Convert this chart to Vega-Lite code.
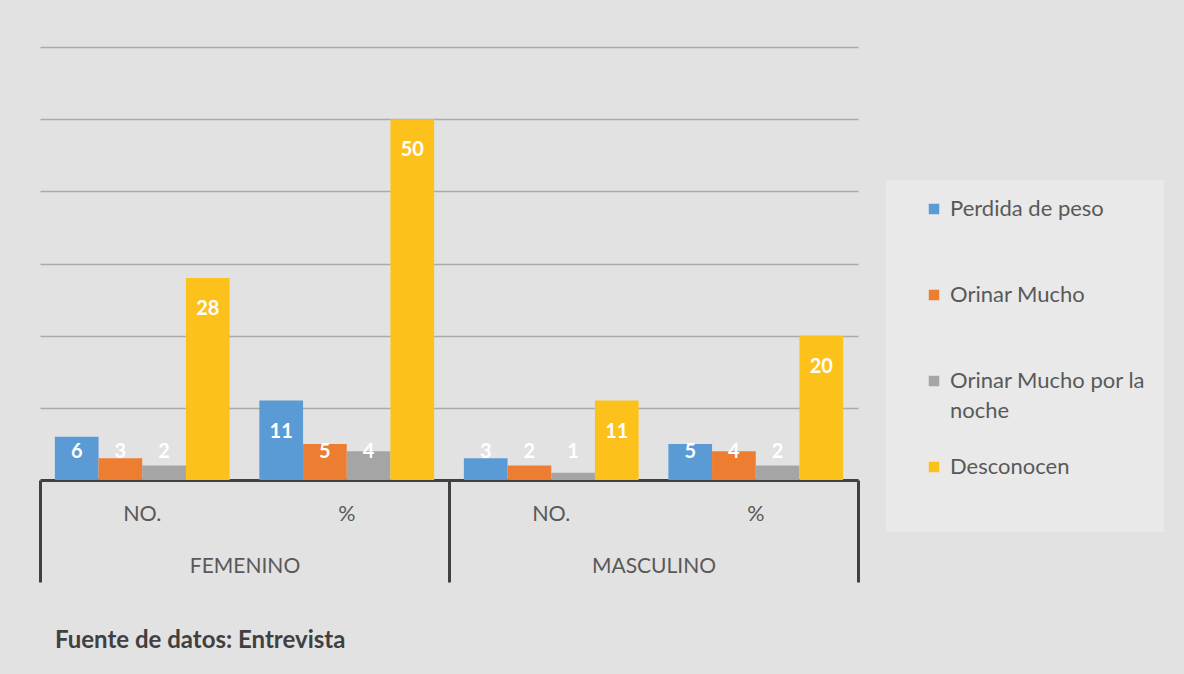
{
  "$schema": "https://vega.github.io/schema/vega-lite/v6.json",
  "width": 818,
  "height": 433,
  "autosize": {"type": "none"},
  "padding": {"left": 40, "top": 47, "right": 326, "bottom": 194},
  "background": "#e2e2e2",
  "config": {"font": "Lato", "view": {"stroke": null}},
  "title": {
    "text": "Fuente de datos: Entrevista",
    "orient": "bottom",
    "anchor": "start",
    "frame": "group",
    "offset": 45,
    "dx": 15,
    "fontSize": 24,
    "fontWeight": "bold",
    "color": "#404040",
    "font": "Lato"
  },
  "data": {
    "values": [
      {"sexo": "FEMENINO", "grupo": "FEMENINO|NO.", "categoria": "Perdida de peso", "valor": 6},
      {"sexo": "FEMENINO", "grupo": "FEMENINO|NO.", "categoria": "Orinar Mucho", "valor": 3},
      {"sexo": "FEMENINO", "grupo": "FEMENINO|NO.", "categoria": "Orinar Mucho por la noche", "valor": 2},
      {"sexo": "FEMENINO", "grupo": "FEMENINO|NO.", "categoria": "Desconocen", "valor": 28},
      {"sexo": "FEMENINO", "grupo": "FEMENINO|%", "categoria": "Perdida de peso", "valor": 11},
      {"sexo": "FEMENINO", "grupo": "FEMENINO|%", "categoria": "Orinar Mucho", "valor": 5},
      {"sexo": "FEMENINO", "grupo": "FEMENINO|%", "categoria": "Orinar Mucho por la noche", "valor": 4},
      {"sexo": "FEMENINO", "grupo": "FEMENINO|%", "categoria": "Desconocen", "valor": 50},
      {"sexo": "MASCULINO", "grupo": "MASCULINO|NO.", "categoria": "Perdida de peso", "valor": 3},
      {"sexo": "MASCULINO", "grupo": "MASCULINO|NO.", "categoria": "Orinar Mucho", "valor": 2},
      {"sexo": "MASCULINO", "grupo": "MASCULINO|NO.", "categoria": "Orinar Mucho por la noche", "valor": 1},
      {"sexo": "MASCULINO", "grupo": "MASCULINO|NO.", "categoria": "Desconocen", "valor": 11},
      {"sexo": "MASCULINO", "grupo": "MASCULINO|%", "categoria": "Perdida de peso", "valor": 5},
      {"sexo": "MASCULINO", "grupo": "MASCULINO|%", "categoria": "Orinar Mucho", "valor": 4},
      {"sexo": "MASCULINO", "grupo": "MASCULINO|%", "categoria": "Orinar Mucho por la noche", "valor": 2},
      {"sexo": "MASCULINO", "grupo": "MASCULINO|%", "categoria": "Desconocen", "valor": 20}
    ]
  },
  "layer": [
    {
      "layer": [
        {
          "mark": {"type": "bar"},
          "encoding": {
            "x": {
              "field": "grupo",
              "type": "nominal",
              "sort": ["FEMENINO|NO.", "FEMENINO|%", "MASCULINO|NO.", "MASCULINO|%"],
              "scale": {"paddingInner": 0, "paddingOuter": 0},
              "axis": {
                "title": null,
                "labelExpr": "split(datum.label, '|')[1]",
                "labelAngle": 0,
                "labelFontSize": 21.5,
                "labelColor": "#595959",
                "labelFont": "Lato",
                "labelPadding": 23,
                "ticks": false,
                "domain": true,
                "domainColor": "#404040",
                "domainWidth": 3,
                "grid": false
              }
            },
            "xOffset": {
              "field": "categoria",
              "type": "nominal",
              "sort": ["Perdida de peso", "Orinar Mucho", "Orinar Mucho por la noche", "Desconocen"],
              "scale": {"paddingInner": 0, "paddingOuter": 0.34}
            },
            "y": {
              "field": "valor",
              "type": "quantitative",
              "scale": {"domain": [0, 60]},
              "axis": {
                "title": null,
                "labels": false,
                "ticks": false,
                "domain": false,
                "grid": true,
                "gridColor": "#aaaaaa",
                "gridWidth": 1.6,
                "values": [10, 20, 30, 40, 50, 60]
              }
            },
            "color": {
              "field": "categoria",
              "type": "nominal",
              "sort": ["Perdida de peso", "Orinar Mucho", "Orinar Mucho por la noche", "Desconocen"],
              "scale": {
                "domain": ["Perdida de peso", "Orinar Mucho", "Orinar Mucho por la noche", "Desconocen"],
                "range": ["#5b9bd5", "#ed7d31", "#a5a5a5", "#fdc11c"]
              },
              "legend": {
                "orient": "none",
                "legendX": 846,
                "legendY": 133,
                "title": " ",
                "titleOrient": "bottom",
                "titleFontSize": 20,
                "titlePadding": 16,
                "fillColor": "#e9e9e9",
                "padding": 18,
                "gridAlign": "all",
                "symbolType": "square",
                "symbolSize": 110,
                "symbolOffset": 19,
                "symbolStrokeWidth": 0,
                "labelFontSize": 22,
                "labelColor": "#595959",
                "labelFont": "Lato",
                "labelOffset": 5,
                "rowPadding": 34,
                "labelLimit": 300,
                "labelExpr": "datum.label == 'Orinar Mucho por la noche' ? ['Orinar Mucho por la', 'noche'] : datum.label",
                "encode": {"labels": {"update": {"lineHeight": {"value": 30}}}}
              }
            }
          }
        },
        {
          "transform": [{"filter": "datum.valor > 8"}],
          "mark": {"type": "text", "dy": 31, "baseline": "middle", "color": "white", "fontWeight": "bold", "fontSize": 20, "font": "Lato"},
          "encoding": {
            "x": {"field": "grupo", "type": "nominal", "sort": ["FEMENINO|NO.", "FEMENINO|%", "MASCULINO|NO.", "MASCULINO|%"]},
            "xOffset": {"field": "categoria", "type": "nominal", "sort": ["Perdida de peso", "Orinar Mucho", "Orinar Mucho por la noche", "Desconocen"]},
            "y": {"field": "valor", "type": "quantitative"},
            "text": {"field": "valor", "type": "quantitative"}
          }
        },
        {
          "transform": [{"filter": "datum.valor <= 8"}],
          "mark": {"type": "text", "dy": -28, "baseline": "middle", "color": "white", "fontWeight": "bold", "fontSize": 20, "font": "Lato"},
          "encoding": {
            "x": {"field": "grupo", "type": "nominal", "sort": ["FEMENINO|NO.", "FEMENINO|%", "MASCULINO|NO.", "MASCULINO|%"]},
            "xOffset": {"field": "categoria", "type": "nominal", "sort": ["Perdida de peso", "Orinar Mucho", "Orinar Mucho por la noche", "Desconocen"]},
            "y": {"datum": 0},
            "text": {"field": "valor", "type": "quantitative"}
          }
        }
      ]
    },
    {
      "mark": {"type": "tick", "opacity": 0},
      "encoding": {
        "x": {
          "field": "sexo",
          "type": "nominal",
          "sort": ["FEMENINO", "MASCULINO"],
          "scale": {"paddingInner": 0, "paddingOuter": 0},
          "axis": {
            "title": null,
            "orient": "bottom",
            "labelAngle": 0,
            "labelFontSize": 21,
            "labelColor": "#595959",
            "labelFont": "Lato",
            "domain": false,
            "ticks": true,
            "tickBand": "extent",
            "tickSize": 102,
            "tickWidth": 3,
            "tickColor": "#404040",
            "labelPadding": -27,
            "grid": false
          }
        }
      }
    }
  ],
  "resolve": {"scale": {"x": "independent"}}
}
